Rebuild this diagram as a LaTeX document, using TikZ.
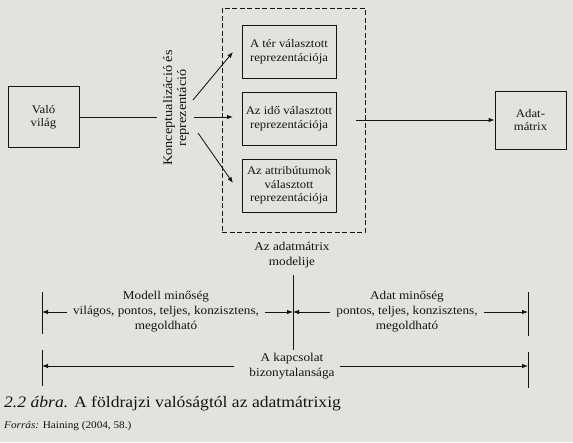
\documentclass[tikz,border=0pt]{standalone}
\usepackage{fontspec}
\setmainfont[FakeStretch=1.1]{Liberation Serif}
\usetikzlibrary{arrows.meta}
\definecolor{paper}{RGB}{226,226,222}
\definecolor{ink}{RGB}{20,20,20}
\begin{document}
\begin{tikzpicture}[x=1pt,y=-1pt,
  every node/.style={text=ink},
  ln/.style={draw=ink,line width=0.85pt},
  arr/.style={ln,-{Latex[length=6pt,width=4.5pt]}},
  box/.style={ln,rectangle,align=center,inner sep=0pt,font=\fontsize{11.6}{13.5}\selectfont},
  lbl/.style={align=center,inner sep=0pt,font=\fontsize{12}{15}\selectfont}]
\fill[paper] (0,0) rectangle (573,442);
\useasboundingbox (0,0) rectangle (573,442);
% top part
\node[box,minimum width=71pt,minimum height=61pt] (valo) at (43.5,117) {Való\\világ};
\node[ln,dash pattern=on 5pt off 2.5pt,minimum width=143pt,minimum height=224pt,inner sep=0pt] (dash) at (293.5,120) {};
\node[box,minimum width=94pt,minimum height=53pt] (b1) at (289,51.5) {A tér választott\\reprezentációja};
\node[box,minimum width=94pt,minimum height=53pt] (b2) at (289,118.5) {Az idő választott\\reprezentációja};
\node[box,minimum width=94pt,minimum height=53pt] (b3) at (289,185.5) {Az attribútumok\\választott\\reprezentációja};
\node[box,minimum width=71pt,minimum height=58pt] (adat) at (530.5,120) {Adat-\\mátrix};
\node[rotate=90,align=center,inner sep=0pt,font=\fontsize{13}{14}\selectfont] (konc) at (176,108) {Konceptualizáció és\\reprezentáció};
\coordinate (kin) at (157,117);
\coordinate (k1) at (193,100);
\coordinate (t1) at (233,52);
\coordinate (k2) at (194,117);
\coordinate (t2) at (233,117);
\coordinate (k3) at (198,133);
\coordinate (t3) at (233,183);
\coordinate (dout) at (356,120);
\draw[ln] (valo.east) -- (kin);
\draw[arr] (k1) -- (t1);
\draw[arr] (k2) -- (t2);
\draw[arr] (k3) -- (t3);
\draw[arr] (dout) -- (adat.west);
% bottom part
\node[lbl] (model) at (292,255) {Az adatmátrix\\modelije};
\coordinate (ctop) at (293,275);
\coordinate (cbot) at (293,350);
\draw[ln] (ctop) -- (cbot);
\coordinate (ltt) at (42,292);
\coordinate (ltb) at (42,334);
\coordinate (rtt) at (528,292);
\coordinate (rtb) at (528,336);
\coordinate (lbt) at (42,350);
\coordinate (lbb) at (42,386);
\coordinate (rbt) at (528,352);
\coordinate (rbb) at (528,388);
\draw[ln] (ltt) -- (ltb);
\draw[ln] (rtt) -- (rtb);
\draw[ln] (lbt) -- (lbb);
\draw[ln] (rbt) -- (rbb);
\node[lbl,inner xsep=6pt] (mm) at (166,312) {Modell minőség\\világos, pontos, teljes, konzisztens,\\megoldható};
\node[lbl,inner xsep=6pt] (am) at (407,312) {Adat minőség\\pontos, teljes, konzisztens,\\megoldható};
\draw[arr] (mm.west) -- (mm.west -| ltt);
\draw[arr] (mm.east) -- (mm.east -| ctop);
\draw[arr] (am.west) -- (am.west -| ctop);
\draw[arr] (am.east) -- (am.east -| rtt);
\node[lbl,inner xsep=10pt] (kap) at (292,366) {A kapcsolat\\bizonytalansága};
\draw[arr] ([xshift=-5pt]kap.west) -- (kap.west -| lbt);
\draw[arr] ([xshift=-5pt]kap.east) -- (kap.east -| rbt);
% caption
\node[anchor=base west,inner sep=0pt,font=\fontsize{16}{18}\selectfont] (cap) at (4,407) {\textit{2.2 ábra.} A földrajzi valóságtól az adatmátrixig};
\node[anchor=base west,inner sep=0pt,font=\fontsize{10.2}{12}\selectfont] (src) at (4,428) {\textit{Forrás:} Haining (2004, 58.)};
\end{tikzpicture}
\end{document}
